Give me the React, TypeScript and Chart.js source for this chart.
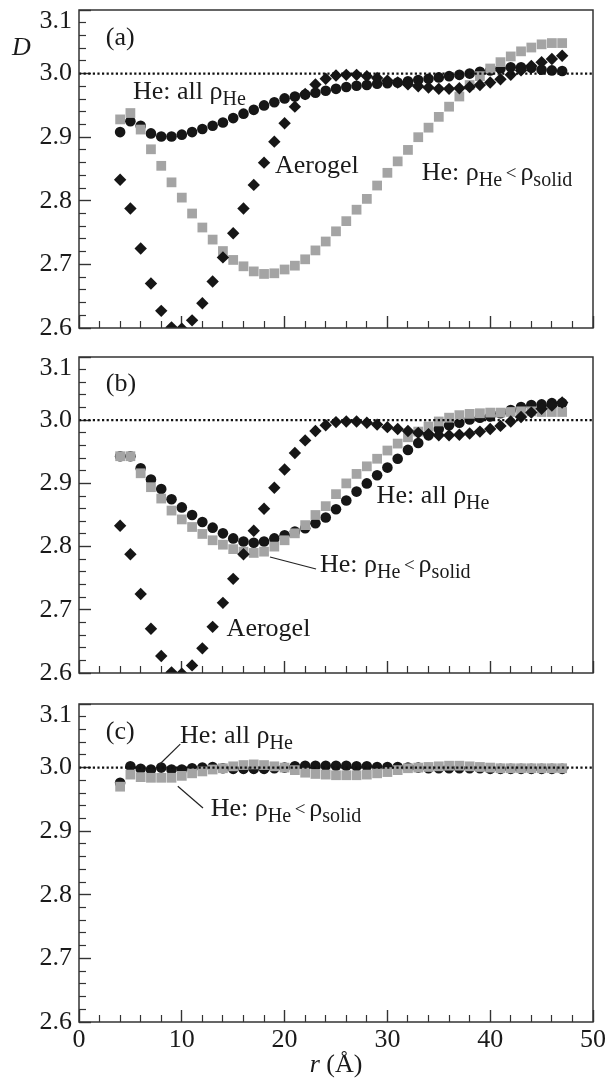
import React, { useEffect, useRef } from 'react';
import { Chart, registerables } from 'chart.js';

Chart.register(...registerables);

const FONT = '"Liberation Serif", "Times New Roman", Times, serif';

// ---------- data ----------
const rValues = [
  4, 5, 6, 7, 8, 9, 10, 11, 12, 13,
  14, 15, 16, 17, 18, 19, 20, 21, 22, 23,
  24, 25, 26, 27, 28, 29, 30, 31, 32, 33,
  34, 35, 36, 37, 38, 39, 40, 41, 42, 43,
  44, 45, 46, 47,
];

const aerogelD = [
  2.833, 2.788, 2.725, 2.670, 2.627, 2.601, 2.599, 2.612, 2.639, 2.673,
  2.711, 2.749, 2.788, 2.825, 2.860, 2.893, 2.922, 2.948, 2.968, 2.983,
  2.992, 2.997, 2.998, 2.998, 2.996, 2.993, 2.989, 2.986, 2.983, 2.980,
  2.978, 2.976, 2.976, 2.977, 2.979, 2.982, 2.986, 2.991, 2.998, 3.005,
  3.012, 3.018, 3.023, 3.028,
];

const heAllA = [
  2.908, 2.925, 2.918, 2.906, 2.901, 2.901, 2.904, 2.908, 2.913, 2.918,
  2.923, 2.930, 2.937, 2.943, 2.950, 2.955, 2.961, 2.964, 2.967, 2.970,
  2.973, 2.976, 2.979, 2.981, 2.982, 2.984, 2.985, 2.986, 2.988, 2.990,
  2.992, 2.994, 2.996, 2.998, 3.000, 3.003, 3.005, 3.008, 3.010, 3.010,
  3.009, 3.006, 3.005, 3.004,
];

const heSolidA = [
  2.928, 2.938, 2.912, 2.881, 2.855, 2.829, 2.805, 2.780, 2.758, 2.739,
  2.721, 2.707, 2.697, 2.689, 2.685, 2.686, 2.692, 2.698, 2.708, 2.722,
  2.736, 2.752, 2.768, 2.786, 2.803, 2.824, 2.844, 2.862, 2.880, 2.900,
  2.915, 2.932, 2.948, 2.964, 2.982, 2.996, 3.008, 3.018, 3.027, 3.035,
  3.041, 3.046, 3.048, 3.048,
];

const heAllB = [
  2.943, 2.943, 2.924, 2.906, 2.891, 2.875, 2.862, 2.850, 2.839, 2.830,
  2.821, 2.813, 2.808, 2.806, 2.808, 2.813, 2.818, 2.824, 2.829, 2.837,
  2.846, 2.859, 2.873, 2.887, 2.900, 2.913, 2.925, 2.939, 2.953, 2.964,
  2.976, 2.986, 2.992, 2.996, 3.001, 3.004, 3.006, 3.011, 3.016, 3.021,
  3.024, 3.025, 3.027, 3.027,
];

const heSolidB = [
  2.943, 2.943, 2.916, 2.894, 2.876, 2.857, 2.843, 2.831, 2.820, 2.810,
  2.803, 2.796, 2.792, 2.790, 2.792, 2.800, 2.810, 2.821, 2.834, 2.850,
  2.864, 2.883, 2.900, 2.915, 2.927, 2.939, 2.952, 2.963, 2.973, 2.982,
  2.990, 2.998, 3.004, 3.008, 3.010, 3.011, 3.012, 3.012, 3.013, 3.014,
  3.014, 3.013, 3.013, 3.013,
];

const heAllC = [
  2.976, 3.002, 2.998, 2.997, 3.000, 2.997, 2.997, 2.999, 3.000, 3.001,
  2.999, 2.998, 2.998, 2.998, 2.998, 2.999, 3.000, 3.002, 3.003, 3.003,
  3.003, 3.003, 3.003, 3.002, 3.002, 3.001, 3.001, 3.001, 3.000, 3.000,
  2.999, 2.999, 2.999, 2.999, 2.999, 2.999, 2.998, 2.998, 2.998, 2.998,
  2.998, 2.998, 2.998, 2.998,
];

const heSolidC = [
  2.970, 2.989, 2.985, 2.984, 2.984, 2.984, 2.987, 2.991, 2.994, 2.997,
  2.999, 3.002, 3.004, 3.005, 3.004, 3.002, 3.000, 2.996, 2.992, 2.990,
  2.989, 2.988, 2.988, 2.988, 2.989, 2.991, 2.993, 2.996, 2.999, 3.000,
  3.001, 3.002, 3.003, 3.003, 3.002, 3.001, 3.000, 2.999, 2.999, 2.999,
  2.999, 2.999, 2.999, 2.999,
];

const yTickValues = [2.6, 2.7, 2.8, 2.9, 3.0, 3.1];
const xTickValues = [0, 10, 20, 30, 40, 50];
const referenceD = 3.0;

// minor tick positions (5 per y major interval, 5 per x major interval)
const yMinorTicks: number[] = [];
for (let i = 0; i < yTickValues.length - 1; i++) {
  for (let k = 1; k < 5; k++) yMinorTicks.push(+(yTickValues[i] + (k * (yTickValues[i + 1] - yTickValues[i])) / 5).toFixed(3));
}
const xMinorTicks: number[] = [];
for (let i = 0; i < xTickValues.length - 1; i++) {
  for (let k = 1; k < 5; k++) xMinorTicks.push(xTickValues[i] + (k * (xTickValues[i + 1] - xTickValues[i])) / 5);
}

// ---------- annotations ----------
type Part = { t: string; k?: 'sub' | 'op' | 'it' };
type Note = { r: number; d: number; parts: Part[] };
type Leader = { r1: number; d1: number; r2: number; d2: number };

const ALL_RHO: Part[] = [{ t: 'He: all ρ' }, { t: 'He', k: 'sub' }];
const SOLID_RHO: Part[] = [
  { t: 'He: ρ' }, { t: 'He', k: 'sub' }, { t: '\u2009<\u2009', k: 'op' }, { t: 'ρ' }, { t: 'solid', k: 'sub' },
];

interface PanelDef {
  tag: string;
  heAll: number[];
  heSolid: number[];
  aerogel: number[] | null;
  notes: Note[];
  leaders: Leader[];
  top: number;
  height: number;
  padTop: number;
  padBottom: number;
  xHeight: number;
  showX: boolean;
  showD: boolean;
}

const panels: PanelDef[] = [
  {
    tag: '(a)', heAll: heAllA, heSolid: heSolidA, aerogel: aerogelD,
    notes: [
      { r: 5.25, d: 2.960, parts: ALL_RHO },
      { r: 19.07, d: 2.844, parts: [{ t: 'Aerogel' }] },
      { r: 33.34, d: 2.833, parts: SOLID_RHO },
    ],
    leaders: [],
    top: 0, height: 340, padTop: 10, padBottom: 12, xHeight: 0, showX: false, showD: true,
  },
  {
    tag: '(b)', heAll: heAllB, heSolid: heSolidB, aerogel: aerogelD,
    notes: [
      { r: 28.95, d: 2.869, parts: ALL_RHO },
      { r: 23.44, d: 2.760, parts: SOLID_RHO },
      { r: 14.36, d: 2.659, parts: [{ t: 'Aerogel' }] },
    ],
    leaders: [{ r1: 18.58, d1: 2.7835, r2: 23.06, d2: 2.7646 }],
    top: 340, height: 345, padTop: 17, padBottom: 12, xHeight: 0, showX: false, showD: false,
  },
  {
    tag: '(c)', heAll: heAllC, heSolid: heSolidC, aerogel: null,
    notes: [
      { r: 9.82, d: 3.0394, parts: ALL_RHO },
      { r: 12.81, d: 2.924, parts: SOLID_RHO },
    ],
    leaders: [
      { r1: 9.85, d1: 3.037, r2: 7.8, d2: 3.0045 },
      { r1: 9.61, d1: 2.9706, r2: 12.06, d2: 2.9365 },
    ],
    top: 685, height: 400, padTop: 19, padBottom: 0, xHeight: 63, showX: true, showD: false,
  },
];

function drawRich(ctx: CanvasRenderingContext2D, parts: Part[], x: number, y: number, base = 26) {
  let cx = x;
  for (const p of parts) {
    let size = base;
    let dy = 0;
    let style = '';
    if (p.k === 'sub') { size = 20; dy = 6; }
    if (p.k === 'op') { size = 19; dy = -1; }
    if (p.k === 'it') style = 'italic ';
    ctx.font = `${style}${size}px ${FONT}`;
    ctx.fillText(p.t, cx, y + dy);
    cx += ctx.measureText(p.t).width;
  }
}

function makeDecor(def: PanelDef) {
  return {
    id: 'decor',
    afterDatasetsDraw(chart: any) {
      const { ctx, chartArea: a } = chart;
      ctx.save();
      ctx.strokeStyle = '#333';
      ctx.lineWidth = 1.5;
      ctx.strokeRect(a.left, a.top, a.right - a.left, a.bottom - a.top);
      ctx.restore();
    },
    afterDraw(chart: any) {
      const { ctx, chartArea: a } = chart;
      const xs = chart.scales.x;
      const ys = chart.scales.y;
      ctx.save();
      ctx.fillStyle = '#1a1a1a';
      ctx.textBaseline = 'alphabetic';
      ctx.textAlign = 'left';
      drawRich(ctx, [{ t: def.tag }], xs.getPixelForValue(2.6), ys.getPixelForValue(3.0455));
      for (const n of def.notes) {
        drawRich(ctx, n.parts, xs.getPixelForValue(n.r), ys.getPixelForValue(n.d));
      }
      ctx.strokeStyle = '#222';
      ctx.lineWidth = 1.2;
      for (const l of def.leaders) {
        ctx.beginPath();
        ctx.moveTo(xs.getPixelForValue(l.r1), ys.getPixelForValue(l.d1));
        ctx.lineTo(xs.getPixelForValue(l.r2), ys.getPixelForValue(l.d2));
        ctx.stroke();
      }
      if (def.showD) {
        drawRich(ctx, [{ t: 'D', k: 'it' }], a.left - 67, a.top + 45);
      }
      if (def.showX) {
        ctx.font = `italic 26px ${FONT}`;
        const w1 = ctx.measureText('r').width;
        ctx.font = `26px ${FONT}`;
        const w2 = ctx.measureText(' (Å)').width;
        const cx = (a.left + a.right) / 2 - (w1 + w2) / 2;
        drawRich(ctx, [{ t: 'r', k: 'it' }, { t: ' (Å)' }], cx, a.bottom + 50);
      }
      ctx.restore();
    },
  };
}

function buildConfig(def: PanelDef): any {
  const pts = (vals: number[]) => rValues.map((r, i) => ({ x: r, y: vals[i] }));
  const datasets: any[] = [
    {
      label: 'D = 3',
      data: [{ x: xTickValues[0], y: referenceD }, { x: xTickValues[xTickValues.length - 1], y: referenceD }],
      showLine: true,
      borderColor: '#111',
      borderWidth: 2.2,
      borderDash: [2.2, 2.4],
      pointRadius: 0,
      xAxisID: 'x',
      yAxisID: 'y',
    },
  ];
  if (def.aerogel) {
    datasets.push({
      label: 'Aerogel', data: pts(def.aerogel), pointStyle: 'rectRot', pointRadius: 6.2,
      backgroundColor: '#161616', borderWidth: 0, xAxisID: 'x', yAxisID: 'y',
    });
  }
  datasets.push({
    label: 'He: rho_He < rho_solid', data: pts(def.heSolid), pointStyle: 'rect', pointRadius: 6.9,
    backgroundColor: '#a4a4a4', borderWidth: 0, xAxisID: 'x', yAxisID: 'y',
  });
  datasets.push({
    label: 'He: all rho_He', data: pts(def.heAll), pointStyle: 'circle', pointRadius: 5.3,
    backgroundColor: '#161616', borderWidth: 0, xAxisID: 'x', yAxisID: 'y',
  });

  const tickColor = '#333';
  return {
    type: 'scatter',
    data: { datasets },
    plugins: [makeDecor(def)],
    options: {
      animation: false,
      responsive: false,
      devicePixelRatio: 1,
      events: [],
      layout: { padding: { top: def.padTop, right: 12, bottom: def.padBottom, left: 0 } },
      plugins: { legend: { display: false }, tooltip: { enabled: false } },
      scales: {
        x: {
          type: 'linear', position: 'bottom', min: 0, max: 50, weight: 1,
          afterBuildTicks: (s: any) => { s.ticks = xTickValues.map((v) => ({ value: v })); },
          afterFit: (s: any) => { s.height = def.xHeight; s.paddingLeft = 0; s.paddingRight = 0; },
          grid: { drawOnChartArea: false, drawTicks: true, tickLength: -12, tickWidth: 1.4, tickColor },
          border: { display: false },
          ticks: {
            display: def.showX, padding: 15, color: '#1a1a1a', maxRotation: 0, autoSkip: false,
            font: { family: FONT, size: 26 },
            callback: (v: number) => String(v),
          },
        },
        xMinor: {
          type: 'linear', position: 'bottom', min: 0, max: 50, weight: 0,
          afterBuildTicks: (s: any) => { s.ticks = xMinorTicks.map((v) => ({ value: v })); },
          afterFit: (s: any) => { s.height = 0; s.paddingLeft = 0; s.paddingRight = 0; },
          grid: { drawOnChartArea: false, drawTicks: true, tickLength: -7, tickWidth: 1.2, tickColor },
          border: { display: false },
          ticks: { display: false },
        },
        y: {
          type: 'linear', position: 'left', min: 2.6, max: 3.1, weight: 1,
          afterBuildTicks: (s: any) => { s.ticks = yTickValues.map((v) => ({ value: v })); },
          afterFit: (s: any) => { s.width = 79; s.paddingTop = 0; s.paddingBottom = 0; },
          grid: { drawOnChartArea: false, drawTicks: true, tickLength: -12, tickWidth: 1.4, tickColor },
          border: { display: false },
          ticks: {
            padding: 19, color: '#1a1a1a', autoSkip: false,
            font: { family: FONT, size: 26, lineHeight: 0.85 },
            callback: (v: number) => (Math.abs(v - yTickValues[yTickValues.length - 1]) < 1e-9 ? ['', v.toFixed(1)] : v.toFixed(1)),
          },
        },
        yMinor: {
          type: 'linear', position: 'left', min: 2.6, max: 3.1, weight: 0,
          afterBuildTicks: (s: any) => { s.ticks = yMinorTicks.map((v) => ({ value: v })); },
          afterFit: (s: any) => { s.width = 0; s.paddingTop = 0; s.paddingBottom = 0; },
          grid: { drawOnChartArea: false, drawTicks: true, tickLength: -7, tickWidth: 1.2, tickColor },
          border: { display: false },
          ticks: { display: false },
        },
      },
    },
  };
}

function Panel({ def }: { def: PanelDef }) {
  const ref = useRef<HTMLCanvasElement>(null);
  useEffect(() => {
    let chart: Chart | null = null;
    let cancelled = false;
    const make = () => {
      if (cancelled || !ref.current) return;
      chart = new Chart(ref.current, buildConfig(def));
    };
    const fonts = (document as any).fonts;
    if (fonts && fonts.load) {
      Promise.all([
        fonts.load(`26px ${FONT}`, 'He: all ρ 2.9'),
        fonts.load(`italic 26px ${FONT}`, 'Dr'),
      ]).then(make, make);
    } else {
      make();
    }
    return () => {
      cancelled = true;
      if (chart) chart.destroy();
    };
  }, [def]);
  return (
    <canvas
      ref={ref}
      width={605}
      height={def.height}
      style={{ position: 'absolute', left: 0, top: def.top, width: 605, height: def.height }}
    />
  );
}

export default function App() {
  return (
    <div style={{ position: 'absolute', left: 0, top: 0, width: 605, height: 1085, background: '#fff', fontFamily: FONT }}>
      <span style={{ position: 'absolute', left: -1000, top: -1000, fontFamily: FONT }}>He ρ 2.9 <i>D r</i></span>
      {panels.map((p) => (
        <Panel key={p.tag} def={p} />
      ))}
    </div>
  );
}
